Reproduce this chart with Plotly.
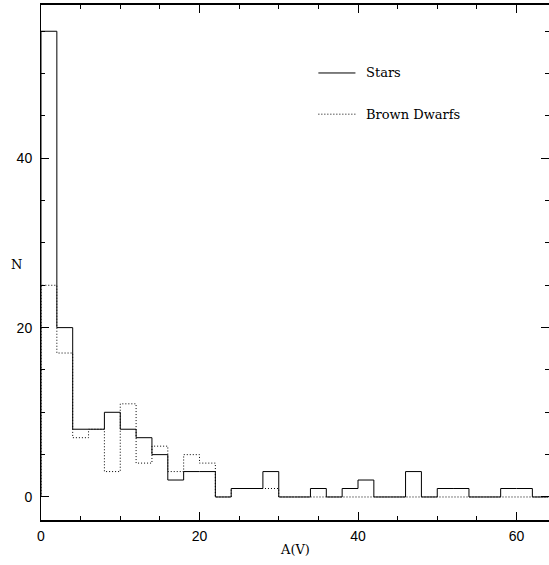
import plotly.graph_objects as go

# ---- data (histogram counts, bins of width 2 starting at A(V)=0) ----
bin_start = 0
bin_width = 2
stars = [55, 20, 8, 8, 10, 8, 7, 5, 2, 3, 3, 0, 1, 1, 3, 0,
         0, 1, 0, 1, 2, 0, 0, 3, 0, 1, 1, 0, 0, 1, 1, 0]
brown_dwarfs = [25, 17, 7, 8, 3, 11, 4, 6, 3, 5, 4, 0, 1, 1, 1, 0,
                0, 0, 0, 0, 0, 0, 0, 0, 0, 0, 0, 0, 0, 0, 0, 0]
x_ticks = [0, 20, 40, 60]
y_ticks = [0, 20, 40]
legend_labels = ["Stars", "Brown Dwarfs"]


def step(counts):
    edges = [bin_start + i * bin_width for i in range(len(counts) + 1)]
    xs = [edges[0]] + edges[:-1] + [edges[-1]]
    ys = [0] + list(counts) + [counts[-1]]
    return xs, ys


DOT = "1px,2px"

fig = go.Figure()
for counts, dash in [(brown_dwarfs, DOT), (stars, "solid")]:
    xs, ys = step(counts)
    fig.add_trace(go.Scatter(x=xs, y=ys, mode="lines",
                             line=dict(color="black", width=1, dash=dash, shape="hv"),
                             showlegend=False, hoverinfo="skip"))

axis_common = dict(showgrid=False, zeroline=False, showline=True, linecolor="black",
                   mirror="ticks", ticks="inside", tickcolor="black",
                   tickfont=dict(family="Liberation Sans", size=14, color="black"),
                   minor=dict(dtick=5, ticks="inside", ticklen=4, tickcolor="black", tickwidth=1))

fig.update_layout(
    width=549, height=565,
    margin=dict(l=41, r=0, t=5, b=45),
    paper_bgcolor="white", plot_bgcolor="white",
    xaxis=dict(range=[0, 64.1], tickvals=x_ticks, ticklen=8, linewidth=2,
               ticklabelstandoff=2, **axis_common),
    yaxis=dict(range=[-2.72, 58.1], tickvals=y_ticks, ticklen=8, linewidth=1,
               ticklabelstandoff=5, **axis_common),
)

# axis labels
label_font = dict(family="DejaVu Serif", size=13, color="black")
fig.add_annotation(text="A(V)", xref="paper", yref="paper", x=0.5, y=0,
                   yshift=-29, xanchor="center", yanchor="middle",
                   showarrow=False, font=label_font)
fig.add_annotation(text="N", xref="paper", yref="paper", x=0, y=0.5,
                   xshift=-25, yshift=-2, xanchor="center", yanchor="middle",
                   showarrow=False, font=label_font)

# legend drawn by hand
legend_y = [0.868, 0.788]
for label, dash, ly in zip(legend_labels, ["solid", DOT], legend_y):
    fig.add_shape(type="line", xref="paper", yref="paper",
                  x0=0.546, x1=0.619, y0=ly, y1=ly,
                  line=dict(color="black", width=1, dash=dash))
    fig.add_annotation(text=label, xref="paper", yref="paper", x=0.635, y=ly,
                       xanchor="left", yanchor="middle", showarrow=False,
                       font=label_font)

fig.write_html("out.html", config={"displayModeBar": False},
               post_script="document.body.style.margin='0px';")
